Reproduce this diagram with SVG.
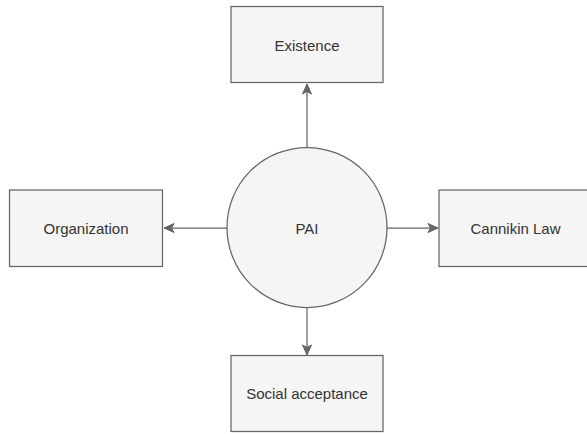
<svg xmlns="http://www.w3.org/2000/svg" width="587" height="434" viewBox="0 0 587 434">
  <style>
    .box { fill: #f5f5f5; stroke: #666666; stroke-width: 1.25; }
    .lbl { font-family: "Liberation Sans", Arial, sans-serif; font-size: 15px; fill: #333333; text-anchor: middle; dominant-baseline: central; }
    .edge { stroke: #666666; stroke-width: 1.25; fill: none; }
  </style>
  <defs>
    <marker id="arr" markerUnits="userSpaceOnUse" markerWidth="12" markerHeight="12" viewBox="0 0 12 12" refX="11" refY="6" orient="auto">
      <path d="M1,1.5 L11,6 L1,10.5 L3.5,6 Z" fill="#666666" stroke="#666666" stroke-width="1"/>
    </marker>
  </defs>
  <rect width="587" height="434" fill="#ffffff"/>
  <g id="connectors">
    <line class="edge" x1="307" y1="147" x2="307" y2="84" marker-end="url(#arr)"/>
    <line class="edge" x1="227" y1="228" x2="164" y2="228" marker-end="url(#arr)"/>
    <line class="edge" x1="387" y1="228" x2="438" y2="228" marker-end="url(#arr)"/>
    <line class="edge" x1="307" y1="307" x2="307" y2="355" marker-end="url(#arr)"/>
  </g>
  <g id="pai">
    <circle class="box" cx="307" cy="227.5" r="80"/>
    <text class="lbl" x="307" y="228">PAI</text>
  </g>
  <g id="existence">
    <rect class="box" x="231" y="6.5" width="152" height="76"/>
    <text class="lbl" x="307" y="45">Existence</text>
  </g>
  <g id="organization">
    <rect class="box" x="9.5" y="190" width="153" height="76.5"/>
    <text class="lbl" x="86" y="228">Organization</text>
  </g>
  <g id="cannikin">
    <rect class="box" x="439" y="190" width="153" height="76.5"/>
    <text class="lbl" x="515.5" y="228">Cannikin Law</text>
  </g>
  <g id="social">
    <rect class="box" x="231" y="355.5" width="152" height="76"/>
    <text class="lbl" x="307" y="393.5">Social acceptance</text>
  </g>
</svg>
